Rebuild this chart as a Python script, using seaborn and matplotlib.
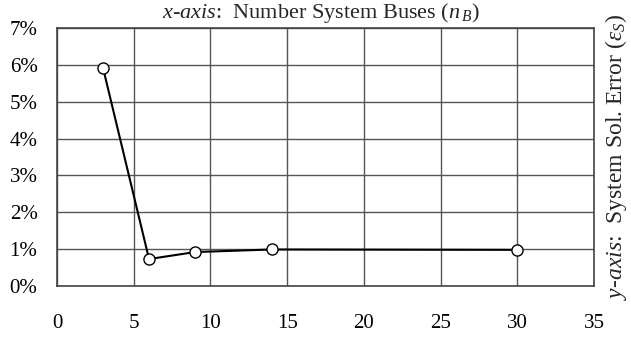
import matplotlib
matplotlib.use("Agg")
import matplotlib.pyplot as plt
import seaborn as sns
import pandas as pd
from matplotlib.ticker import PercentFormatter

# data
buses = [3, 6, 9, 14, 30]
sol_error = [0.0592, 0.0073, 0.0092, 0.0099, 0.0098]

df = pd.DataFrame({"buses": buses, "error": sol_error})

sns.set_style("white")
plt.rcParams["font.family"] = ["Liberation Serif", "DejaVu Serif"]
plt.rcParams["mathtext.fontset"] = "custom"
plt.rcParams["mathtext.rm"] = "Liberation Serif"
plt.rcParams["mathtext.it"] = "Liberation Serif:italic"

fig = plt.figure(figsize=(6.31, 3.38), dpi=100)
ax = fig.add_axes([0.0903, 0.154, 0.851, 0.763])

sns.lineplot(data=df, x="buses", y="error", ax=ax, color="black", linewidth=1.5,
             marker="o", markersize=8, markerfacecolor="white",
             markeredgecolor="black", markeredgewidth=1.0)

ax.set_xlim(0, 35)
ax.set_ylim(0, 0.07)
ax.set_xticks(range(0, 36, 5))
ax.set_yticks([i / 100 for i in range(8)])
ax.yaxis.set_major_formatter(PercentFormatter(1.0, decimals=0))
ax.grid(True, color="#555555", linewidth=1.0)
for s in ax.spines.values():
    s.set_color("#444444")
    s.set_linewidth(1.2)
ax.tick_params(axis="both", direction="out", length=7, width=1, color="#444444",
               labelsize=15, colors="black")
ax.tick_params(axis="x", pad=13)
ax.tick_params(axis="y", pad=7)
ax.set_xlabel("")
ax.set_ylabel("")

fig.text(0.508, 0.962, r"$x$-$axis$:  Number System Buses ($n_{\,B}$)",
         ha="center", va="center", fontsize=16)
fig.text(0.977, 0.535, r"$y$-$axis$:  System Sol. Error ($\varepsilon_S$)",
         ha="center", va="center", rotation=90, fontsize=17)

fig.savefig("out.png", dpi=100)
